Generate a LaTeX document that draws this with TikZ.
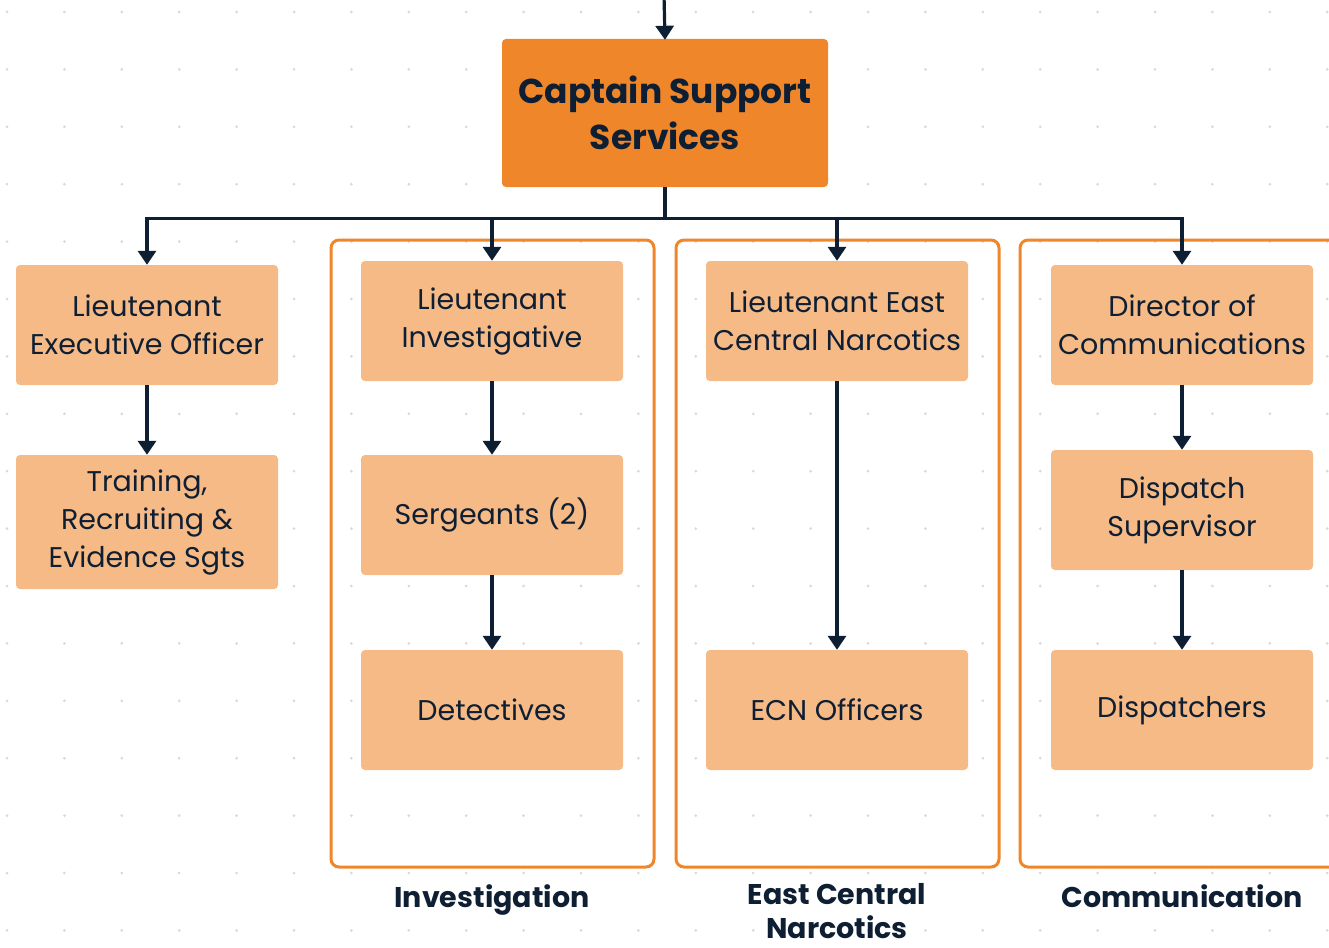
\documentclass[tikz,border=0pt]{standalone}
\usepackage{fontspec}
\setmainfont{Poppins}
\usetikzlibrary{arrows.meta}
\definecolor{navy}{HTML}{0F1F33}
\definecolor{boss}{HTML}{F0862A}
\definecolor{unit}{HTML}{F5BA86}
\definecolor{dotgray}{HTML}{D9D9D9}

\begin{document}
\begin{tikzpicture}[x=1pt,y=-1pt,
    box/.style={fill=unit, rounded corners=4pt, minimum width=262pt,
      minimum height=120pt, inner sep=0pt, align=center, text=navy,
      font=\fontsize{28.5}{38}\selectfont},
    chief/.style={box, fill=boss, minimum width=326pt, minimum height=148pt,
      font=\fontsize{34.5}{46}\selectfont\bfseries},
    group/.style={draw=boss, line width=3pt, rounded corners=8pt},
    caption/.style={text=navy, align=center, inner sep=0pt,
      font=\fontsize{28.5}{34}\selectfont\bfseries},
    link/.style={draw=navy, line width=3.2pt,
      -{Triangle[width=18pt,length=14pt]}}
  ]
  \useasboundingbox (0,0) rectangle (1329,947);

  % точечная сетка
  \foreach \i in {0,...,23}
    \foreach \j in {0,...,16}
      \fill[dotgray] (7+57.4*\i,12+57.4*\j) circle (1.5pt);

  % рамки групп
  \draw[group] (331,240) rectangle (654,867);
  \draw[group] (676,240) rectangle (999,867);
  \draw[group] (1020,240) rectangle (1350,867);

  % узлы
  \node[chief] (captain) at (665,113) {Captain Support\\Services};

  \node[box] (exec) at (147,325) {Lieutenant\\Executive Officer};
  \node[box, minimum height=134pt] (training) at (147,522)
    {Training,\\Recruiting \&\\Evidence Sgts};

  \node[box] (inv) at (492,321) {Lieutenant\\Investigative};
  \node[box] (sgts) at (492,515) {Sergeants (2)};
  \node[box] (detect) at (492,710) {Detectives};

  \node[box] (ecn) at (837,321) {Lieutenant East\\Central Narcotics};
  \node[box] (ecnoff) at (837,710) {ECN Officers};

  \node[box] (comm) at (1182,325) {Director of\\Communications};
  \node[box] (dsup) at (1182,510) {Dispatch\\Supervisor};
  \node[box] (disp) at (1182,710) {Dispatchers};

  % подписи групп
  \node[caption, anchor=base] (invlbl) at (492,907) {Investigation};
  \node[caption] (ecnlbl) at (837,911) {East Central\\Narcotics};
  \node[caption, anchor=base] (commlbl) at (1182,907) {Communication};

  % связи
  \coordinate (above) at (664,-5);
  \draw[link] (above) -- ([yshift=-1pt]captain.north);
  \foreach \n in {exec,inv,ecn,comm}
    \draw[link] (captain.south) -- ++(0,31) -| (\n.north);
  \draw[link] (exec) -- (training);
  \draw[link] (inv) -- (sgts);
  \draw[link] (sgts) -- (detect);
  \draw[link] (ecn) -- (ecnoff);
  \draw[link] (comm) -- (dsup);
  \draw[link] (dsup) -- (disp);
\end{tikzpicture}
\end{document}
